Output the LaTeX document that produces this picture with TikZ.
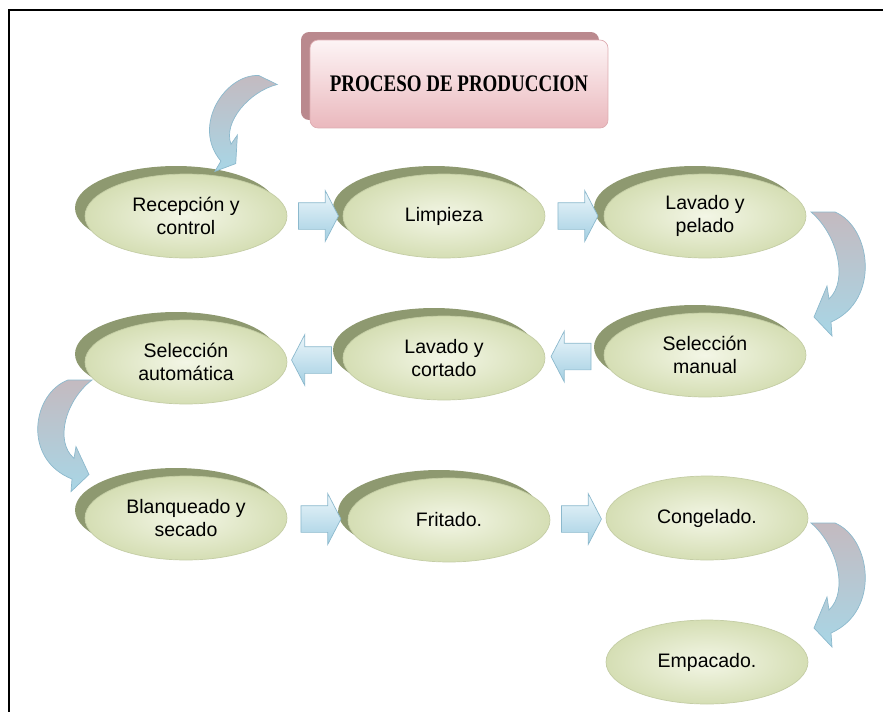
\documentclass[tikz,border=0pt]{standalone}
\usepackage{fontspec}
\setmainfont{Liberation Sans}
\newfontfamily\headfont{Liberation Serif}
\usepackage{graphicx}
\usetikzlibrary{shapes.geometric}
\usetikzlibrary{shapes.arrows}
\usetikzlibrary{shadows}
\usetikzlibrary{calc}

\definecolor{ellin}{RGB}{243,246,230}
\definecolor{ellout}{RGB}{213,222,180}
\definecolor{elledge}{RGB}{196,205,165}
\definecolor{ellshade}{RGB}{142,153,112}
\definecolor{arrowgrey}{RGB}{196,186,192}
\definecolor{arrowblue}{RGB}{168,214,230}
\definecolor{arrowedge}{RGB}{140,185,205}
\definecolor{barlight}{RGB}{236,246,251}
\definecolor{bardark}{RGB}{163,207,226}
\definecolor{boxtop}{RGB}{253,244,245}
\definecolor{boxbot}{RGB}{234,184,189}
\definecolor{boxedge}{RGB}{222,172,177}
\definecolor{boxback}{RGB}{186,137,142}

\tikzset{
  oval/.style={ellipse, minimum width=4.04cm, minimum height=1.68cm, inner sep=0pt,
    inner color=ellin, outer color=ellout, draw=elledge, line width=0.4pt,
    align=center, font=\fontsize{11.1}{13}\selectfont},
  stage/.style={oval, general shadow={fill=ellshade, shadow xshift=-0.2cm, shadow yshift=0.16cm}},
  titlebox/.style={rectangle, rounded corners=0.16cm, minimum width=5.96cm, minimum height=1.76cm,
    top color=boxtop, bottom color=boxbot, draw=boxedge,
    general shadow={fill=boxback, shadow xshift=-0.18cm, shadow yshift=0.16cm},
    font=\headfont\bfseries\fontsize{13.5}{16}\selectfont},
  rarrow/.style={single arrow, minimum height=0.8cm, inner xsep=0pt, inner ysep=0.26cm,
    single arrow head extend=0.24cm, single arrow tip angle=125,
    top color=barlight, bottom color=bardark, draw=arrowedge, line width=0.4pt},
  larrow/.style={rarrow, shape border rotate=180},
  bendarrow/.pic={
    \shade[top color=arrowgrey, bottom color=arrowblue, draw=arrowedge, line width=0.4pt]
      (-12,0) -- (12,0) .. controls (48,15) and (58,88) .. (8,110)
      -- (9,124) -- (-9,105) -- (4,74) -- (6,87)
      .. controls (26,68) and (14,22) .. (-12,0) -- cycle;
  }
}

\begin{document}
\begin{tikzpicture}[x=0.02cm, y=-0.02cm]
  \useasboundingbox (0,0) rectangle (883,711);
  \draw[line width=1.2pt] (9,740) -- (9,10) -- (900,10);

  \node[titlebox] (tit) at (459,84) {\scalebox{0.8}[1]{PROCESO DE PRODUCCION}};

  \node[stage] (rec) at (186,216) {Recepción y\\control};
  \node[stage] (lim) at (444,216) {Limpieza};
  \node[stage] (lpe) at (705,216) {Lavado y\\pelado};
  \node[stage] (sau) at (186,362) {Selección\\automática};
  \node[stage] (lco) at (444,358) {Lavado y\\cortado};
  \node[stage] (sma) at (705,355) {Selección\\manual};
  \node[stage] (bla) at (186,518) {Blanqueado y\\secado};
  \node[stage] (fri) at (449,520) {Fritado.};
  \node[oval] (con) at (707,518) {Congelado.};
  \node[oval] (emp) at (707,662) {Empacado.};

  \node[rarrow] (a1) at ($(rec)!.5!(lim)$) {};
  \node[rarrow] (a2) at ($(lim)!.5!(lpe)$) {};
  \node[larrow] (a3) at ($(sma)!.5!(lco)$) {};
  \node[larrow] (a4) at ($(lco)!.5!(sau)$) {};
  \node[rarrow] (a5) at ($(bla)!.5!(fri)$) {};
  \node[rarrow] (a6) at ($(fri)!.5!(con)$) {};

  \pic[rotate=-26, scale=0.85, xscale=-1] at (268,80) {bendarrow};
  \pic at (823,212) {bendarrow};
  \pic[yscale=0.9, xscale=-1] at (80,380) {bendarrow};
  \pic at (823,523) {bendarrow};
\end{tikzpicture}
\end{document}
